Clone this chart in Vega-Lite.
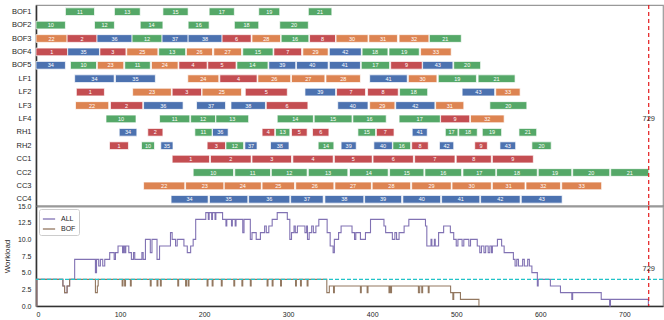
{
  "$schema": "https://vega.github.io/schema/vega-lite/v6.json",
  "padding": {"left": 2, "top": 3, "right": 0, "bottom": 0},
  "config": {
    "font": "Liberation Sans",
    "view": {"stroke": "#999999", "strokeWidth": 1.2},
    "axis": {
      "grid": false, "ticks": false, "domainColor": "#333333", "domainWidth": 1.6,
      "labelColor": "#262626", "titleColor": "#262626",
      "labelFont": "Liberation Sans", "titleFont": "Liberation Sans", "minExtent": 0
    },
    "legend": {
      "orient": "top-left", "offset": 3, "padding": 3, "strokeColor": "#cccccc",
      "cornerRadius": 2, "fillColor": "white", "symbolType": "stroke",
      "symbolSize": 150, "symbolStrokeWidth": 1.3, "labelFontSize": 7,
      "labelColor": "#262626", "rowPadding": -2, "labelOffset": 5
    }
  },
  "datasets": {
    "tasks": [
      {"unit": "BOF1", "job": 11, "cast": "CC2", "start": 35, "end": 69.6},
      {"unit": "BOF1", "job": 13, "cast": "CC2", "start": 93.3, "end": 124},
      {"unit": "BOF1", "job": 15, "cast": "CC2", "start": 151, "end": 181},
      {"unit": "BOF1", "job": 17, "cast": "CC2", "start": 206, "end": 236},
      {"unit": "BOF1", "job": 19, "cast": "CC2", "start": 265, "end": 290},
      {"unit": "BOF1", "job": 21, "cast": "CC2", "start": 324, "end": 352},
      {"unit": "BOF2", "job": 10, "cast": "CC2", "start": 0, "end": 35},
      {"unit": "BOF2", "job": 12, "cast": "CC2", "start": 69.6, "end": 93.3},
      {"unit": "BOF2", "job": 14, "cast": "CC2", "start": 124, "end": 151},
      {"unit": "BOF2", "job": 16, "cast": "CC2", "start": 181, "end": 206},
      {"unit": "BOF2", "job": 18, "cast": "CC2", "start": 236, "end": 265},
      {"unit": "BOF2", "job": 20, "cast": "CC2", "start": 290, "end": 324},
      {"unit": "BOF3", "job": 22, "cast": "CC3", "start": 0, "end": 37},
      {"unit": "BOF3", "job": 2, "cast": "CC1", "start": 37, "end": 72.6},
      {"unit": "BOF3", "job": 36, "cast": "CC4", "start": 72.6, "end": 114.3},
      {"unit": "BOF3", "job": 12, "cast": "CC2", "start": 114.3, "end": 150},
      {"unit": "BOF3", "job": 37, "cast": "CC4", "start": 150, "end": 181},
      {"unit": "BOF3", "job": 38, "cast": "CC4", "start": 181, "end": 221.4},
      {"unit": "BOF3", "job": 6, "cast": "CC1", "start": 221.4, "end": 256},
      {"unit": "BOF3", "job": 28, "cast": "CC3", "start": 257, "end": 291},
      {"unit": "BOF3", "job": 16, "cast": "CC2", "start": 291.7, "end": 324.6},
      {"unit": "BOF3", "job": 8, "cast": "CC1", "start": 325.5, "end": 356.4},
      {"unit": "BOF3", "job": 30, "cast": "CC3", "start": 357, "end": 395},
      {"unit": "BOF3", "job": 31, "cast": "CC3", "start": 396, "end": 430},
      {"unit": "BOF3", "job": 32, "cast": "CC3", "start": 432, "end": 467.5},
      {"unit": "BOF3", "job": 21, "cast": "CC2", "start": 468, "end": 506},
      {"unit": "BOF4", "job": 1, "cast": "CC1", "start": 0, "end": 37.7},
      {"unit": "BOF4", "job": 35, "cast": "CC4", "start": 37.7, "end": 75.5},
      {"unit": "BOF4", "job": 3, "cast": "CC1", "start": 76, "end": 107},
      {"unit": "BOF4", "job": 25, "cast": "CC3", "start": 108, "end": 145},
      {"unit": "BOF4", "job": 13, "cast": "CC2", "start": 146, "end": 178},
      {"unit": "BOF4", "job": 26, "cast": "CC3", "start": 179, "end": 210},
      {"unit": "BOF4", "job": 27, "cast": "CC3", "start": 211.5, "end": 244.5},
      {"unit": "BOF4", "job": 15, "cast": "CC2", "start": 246, "end": 282},
      {"unit": "BOF4", "job": 7, "cast": "CC1", "start": 283, "end": 316},
      {"unit": "BOF4", "job": 29, "cast": "CC3", "start": 317.5, "end": 347.6},
      {"unit": "BOF4", "job": 42, "cast": "CC4", "start": 349, "end": 387},
      {"unit": "BOF4", "job": 18, "cast": "CC2", "start": 388, "end": 418.7},
      {"unit": "BOF4", "job": 19, "cast": "CC2", "start": 420, "end": 456},
      {"unit": "BOF4", "job": 33, "cast": "CC3", "start": 457.6, "end": 494},
      {"unit": "BOF5", "job": 34, "cast": "CC4", "start": 0, "end": 35},
      {"unit": "BOF5", "job": 10, "cast": "CC2", "start": 41, "end": 72},
      {"unit": "BOF5", "job": 23, "cast": "CC3", "start": 73, "end": 104.4},
      {"unit": "BOF5", "job": 11, "cast": "CC2", "start": 105.6, "end": 136},
      {"unit": "BOF5", "job": 24, "cast": "CC3", "start": 137.4, "end": 169},
      {"unit": "BOF5", "job": 4, "cast": "CC1", "start": 170, "end": 203.6},
      {"unit": "BOF5", "job": 5, "cast": "CC1", "start": 204.4, "end": 238},
      {"unit": "BOF5", "job": 14, "cast": "CC2", "start": 239, "end": 276},
      {"unit": "BOF5", "job": 39, "cast": "CC4", "start": 277, "end": 309},
      {"unit": "BOF5", "job": 40, "cast": "CC4", "start": 310, "end": 347.6},
      {"unit": "BOF5", "job": 41, "cast": "CC4", "start": 349, "end": 386},
      {"unit": "BOF5", "job": 17, "cast": "CC2", "start": 387, "end": 420.7},
      {"unit": "BOF5", "job": 9, "cast": "CC1", "start": 422, "end": 459.5},
      {"unit": "BOF5", "job": 43, "cast": "CC4", "start": 460, "end": 496},
      {"unit": "BOF5", "job": 20, "cast": "CC2", "start": 497, "end": 529},
      {"unit": "LF1", "job": 34, "cast": "CC4", "start": 46, "end": 93},
      {"unit": "LF1", "job": 35, "cast": "CC4", "start": 94.5, "end": 142},
      {"unit": "LF1", "job": 24, "cast": "CC3", "start": 180.6, "end": 217.5},
      {"unit": "LF1", "job": 4, "cast": "CC1", "start": 218.7, "end": 263},
      {"unit": "LF1", "job": 26, "cast": "CC3", "start": 264, "end": 303},
      {"unit": "LF1", "job": 27, "cast": "CC3", "start": 304, "end": 343.7},
      {"unit": "LF1", "job": 28, "cast": "CC3", "start": 345, "end": 386},
      {"unit": "LF1", "job": 41, "cast": "CC4", "start": 397, "end": 441.7},
      {"unit": "LF1", "job": 30, "cast": "CC3", "start": 443, "end": 477},
      {"unit": "LF1", "job": 19, "cast": "CC2", "start": 478.6, "end": 524},
      {"unit": "LF1", "job": 21, "cast": "CC2", "start": 526, "end": 570},
      {"unit": "LF2", "job": 1, "cast": "CC1", "start": 48, "end": 81.4},
      {"unit": "LF2", "job": 23, "cast": "CC3", "start": 115, "end": 161},
      {"unit": "LF2", "job": 3, "cast": "CC1", "start": 162, "end": 197},
      {"unit": "LF2", "job": 25, "cast": "CC3", "start": 197.6, "end": 244.5},
      {"unit": "LF2", "job": 5, "cast": "CC1", "start": 249, "end": 299},
      {"unit": "LF2", "job": 39, "cast": "CC4", "start": 320, "end": 356.4},
      {"unit": "LF2", "job": 7, "cast": "CC1", "start": 357.6, "end": 392},
      {"unit": "LF2", "job": 8, "cast": "CC1", "start": 394.5, "end": 431},
      {"unit": "LF2", "job": 18, "cast": "CC2", "start": 432.6, "end": 466},
      {"unit": "LF2", "job": 43, "cast": "CC4", "start": 507, "end": 545.7},
      {"unit": "LF2", "job": 33, "cast": "CC3", "start": 547, "end": 576},
      {"unit": "LF3", "job": 22, "cast": "CC3", "start": 47, "end": 86.5},
      {"unit": "LF3", "job": 2, "cast": "CC1", "start": 88.6, "end": 127},
      {"unit": "LF3", "job": 36, "cast": "CC4", "start": 128, "end": 175},
      {"unit": "LF3", "job": 37, "cast": "CC4", "start": 191, "end": 225.5},
      {"unit": "LF3", "job": 38, "cast": "CC4", "start": 232, "end": 273},
      {"unit": "LF3", "job": 6, "cast": "CC1", "start": 274, "end": 323.5},
      {"unit": "LF3", "job": 40, "cast": "CC4", "start": 359, "end": 395},
      {"unit": "LF3", "job": 29, "cast": "CC3", "start": 397, "end": 427},
      {"unit": "LF3", "job": 42, "cast": "CC4", "start": 428, "end": 474.6},
      {"unit": "LF3", "job": 31, "cast": "CC3", "start": 475.5, "end": 509},
      {"unit": "LF3", "job": 20, "cast": "CC2", "start": 540, "end": 584},
      {"unit": "LF4", "job": 10, "cast": "CC2", "start": 83.3, "end": 119},
      {"unit": "LF4", "job": 11, "cast": "CC2", "start": 147, "end": 183},
      {"unit": "LF4", "job": 12, "cast": "CC2", "start": 184, "end": 213.6},
      {"unit": "LF4", "job": 13, "cast": "CC2", "start": 214, "end": 253},
      {"unit": "LF4", "job": 14, "cast": "CC2", "start": 287, "end": 330},
      {"unit": "LF4", "job": 15, "cast": "CC2", "start": 331, "end": 376},
      {"unit": "LF4", "job": 16, "cast": "CC2", "start": 377, "end": 416.7},
      {"unit": "LF4", "job": 17, "cast": "CC2", "start": 432, "end": 481},
      {"unit": "LF4", "job": 9, "cast": "CC1", "start": 481.4, "end": 516},
      {"unit": "LF4", "job": 32, "cast": "CC3", "start": 517, "end": 557},
      {"unit": "RH1", "job": 34, "cast": "CC4", "start": 99, "end": 120},
      {"unit": "RH1", "job": 2, "cast": "CC1", "start": 133, "end": 151},
      {"unit": "RH1", "job": 11, "cast": "CC2", "start": 189, "end": 209.5},
      {"unit": "RH1", "job": 36, "cast": "CC4", "start": 210, "end": 228.6},
      {"unit": "RH1", "job": 4, "cast": "CC1", "start": 269, "end": 284},
      {"unit": "RH1", "job": 13, "cast": "CC2", "start": 285, "end": 302},
      {"unit": "RH1", "job": 5, "cast": "CC1", "start": 304, "end": 322.6},
      {"unit": "RH1", "job": 6, "cast": "CC1", "start": 329, "end": 348.5},
      {"unit": "RH1", "job": 15, "cast": "CC2", "start": 383, "end": 404},
      {"unit": "RH1", "job": 7, "cast": "CC1", "start": 405, "end": 426},
      {"unit": "RH1", "job": 41, "cast": "CC4", "start": 447.6, "end": 465.5},
      {"unit": "RH1", "job": 17, "cast": "CC2", "start": 487, "end": 502},
      {"unit": "RH1", "job": 18, "cast": "CC2", "start": 503, "end": 525},
      {"unit": "RH1", "job": 19, "cast": "CC2", "start": 531, "end": 554},
      {"unit": "RH1", "job": 21, "cast": "CC2", "start": 574.6, "end": 595.7},
      {"unit": "RH2", "job": 1, "cast": "CC1", "start": 87.4, "end": 110},
      {"unit": "RH2", "job": 10, "cast": "CC2", "start": 125.5, "end": 141},
      {"unit": "RH2", "job": 35, "cast": "CC4", "start": 148.5, "end": 163},
      {"unit": "RH2", "job": 3, "cast": "CC1", "start": 203.6, "end": 225.5},
      {"unit": "RH2", "job": 12, "cast": "CC2", "start": 226, "end": 247},
      {"unit": "RH2", "job": 37, "cast": "CC4", "start": 248.5, "end": 263},
      {"unit": "RH2", "job": 38, "cast": "CC4", "start": 279, "end": 301},
      {"unit": "RH2", "job": 14, "cast": "CC2", "start": 335.7, "end": 354.4},
      {"unit": "RH2", "job": 39, "cast": "CC4", "start": 363, "end": 381},
      {"unit": "RH2", "job": 40, "cast": "CC4", "start": 402, "end": 424},
      {"unit": "RH2", "job": 16, "cast": "CC2", "start": 424.6, "end": 445.7},
      {"unit": "RH2", "job": 8, "cast": "CC1", "start": 447, "end": 466.7},
      {"unit": "RH2", "job": 42, "cast": "CC4", "start": 480, "end": 497},
      {"unit": "RH2", "job": 9, "cast": "CC1", "start": 522, "end": 537},
      {"unit": "RH2", "job": 43, "cast": "CC4", "start": 552, "end": 570.7},
      {"unit": "RH2", "job": 20, "cast": "CC2", "start": 590, "end": 613},
      {"unit": "CC1", "job": 1, "cast": "CC1", "start": 162, "end": 206.4},
      {"unit": "CC1", "job": 2, "cast": "CC1", "start": 207.6, "end": 256},
      {"unit": "CC1", "job": 3, "cast": "CC1", "start": 257, "end": 304},
      {"unit": "CC1", "job": 4, "cast": "CC1", "start": 305.6, "end": 353.6},
      {"unit": "CC1", "job": 5, "cast": "CC1", "start": 355, "end": 400},
      {"unit": "CC1", "job": 6, "cast": "CC1", "start": 401, "end": 449},
      {"unit": "CC1", "job": 7, "cast": "CC1", "start": 450.5, "end": 498.5},
      {"unit": "CC1", "job": 8, "cast": "CC1", "start": 500, "end": 541.7},
      {"unit": "CC1", "job": 9, "cast": "CC1", "start": 543, "end": 591.7},
      {"unit": "CC2", "job": 10, "cast": "CC2", "start": 187, "end": 235},
      {"unit": "CC2", "job": 11, "cast": "CC2", "start": 236.5, "end": 279},
      {"unit": "CC2", "job": 12, "cast": "CC2", "start": 280, "end": 322.6},
      {"unit": "CC2", "job": 13, "cast": "CC2", "start": 324, "end": 371},
      {"unit": "CC2", "job": 14, "cast": "CC2", "start": 373, "end": 419},
      {"unit": "CC2", "job": 15, "cast": "CC2", "start": 420.7, "end": 461.5},
      {"unit": "CC2", "job": 16, "cast": "CC2", "start": 462.7, "end": 506.4},
      {"unit": "CC2", "job": 17, "cast": "CC2", "start": 508, "end": 547},
      {"unit": "CC2", "job": 18, "cast": "CC2", "start": 548, "end": 596.4},
      {"unit": "CC2", "job": 19, "cast": "CC2", "start": 597.6, "end": 637.4},
      {"unit": "CC2", "job": 20, "cast": "CC2", "start": 638.6, "end": 682.6},
      {"unit": "CC2", "job": 21, "cast": "CC2", "start": 683.8, "end": 729},
      {"unit": "CC3", "job": 22, "cast": "CC3", "start": 128, "end": 177},
      {"unit": "CC3", "job": 23, "cast": "CC3", "start": 178, "end": 223.5},
      {"unit": "CC3", "job": 24, "cast": "CC3", "start": 224, "end": 268},
      {"unit": "CC3", "job": 25, "cast": "CC3", "start": 269, "end": 307.6},
      {"unit": "CC3", "job": 26, "cast": "CC3", "start": 309, "end": 354.4},
      {"unit": "CC3", "job": 27, "cast": "CC3", "start": 355.6, "end": 399},
      {"unit": "CC3", "job": 28, "cast": "CC3", "start": 400, "end": 445.7},
      {"unit": "CC3", "job": 29, "cast": "CC3", "start": 447, "end": 494},
      {"unit": "CC3", "job": 30, "cast": "CC3", "start": 495, "end": 541.7},
      {"unit": "CC3", "job": 31, "cast": "CC3", "start": 543, "end": 581.8},
      {"unit": "CC3", "job": 32, "cast": "CC3", "start": 583, "end": 624},
      {"unit": "CC3", "job": 33, "cast": "CC3", "start": 625.5, "end": 673},
      {"unit": "CC4", "job": 34, "cast": "CC4", "start": 160.7, "end": 204.8},
      {"unit": "CC4", "job": 35, "cast": "CC4", "start": 206.4, "end": 252},
      {"unit": "CC4", "job": 36, "cast": "CC4", "start": 253, "end": 302},
      {"unit": "CC4", "job": 37, "cast": "CC4", "start": 303, "end": 341.7},
      {"unit": "CC4", "job": 38, "cast": "CC4", "start": 343.7, "end": 390},
      {"unit": "CC4", "job": 39, "cast": "CC4", "start": 391, "end": 435},
      {"unit": "CC4", "job": 40, "cast": "CC4", "start": 436.5, "end": 481.4},
      {"unit": "CC4", "job": 41, "cast": "CC4", "start": 482.6, "end": 528},
      {"unit": "CC4", "job": 42, "cast": "CC4", "start": 529, "end": 576},
      {"unit": "CC4", "job": 43, "cast": "CC4", "start": 577.4, "end": 626}
    ],
    "load": [
      {"series": "ALL", "t": 0, "load": 0}, {"series": "ALL", "t": 1, "load": 4},
      {"series": "ALL", "t": 32, "load": 3}, {"series": "ALL", "t": 34, "load": 2},
      {"series": "ALL", "t": 37, "load": 3}, {"series": "ALL", "t": 40, "load": 4},
      {"series": "ALL", "t": 46, "load": 7}, {"series": "ALL", "t": 70.7, "load": 5},
      {"series": "ALL", "t": 72, "load": 7}, {"series": "ALL", "t": 74.6, "load": 6},
      {"series": "ALL", "t": 76.6, "load": 7}, {"series": "ALL", "t": 79.4, "load": 6},
      {"series": "ALL", "t": 81.8, "load": 7}, {"series": "ALL", "t": 87.7, "load": 8},
      {"series": "ALL", "t": 93, "load": 7}, {"series": "ALL", "t": 94.5, "load": 8},
      {"series": "ALL", "t": 97.6, "load": 9}, {"series": "ALL", "t": 103, "load": 8},
      {"series": "ALL", "t": 104.2, "load": 9}, {"series": "ALL", "t": 105.6, "load": 8},
      {"series": "ALL", "t": 106.8, "load": 9}, {"series": "ALL", "t": 110.4, "load": 8},
      {"series": "ALL", "t": 113.5, "load": 7}, {"series": "ALL", "t": 116, "load": 8},
      {"series": "ALL", "t": 117.5, "load": 7}, {"series": "ALL", "t": 126, "load": 8},
      {"series": "ALL", "t": 127.5, "load": 7}, {"series": "ALL", "t": 130.2, "load": 10},
      {"series": "ALL", "t": 136, "load": 8}, {"series": "ALL", "t": 138, "load": 10},
      {"series": "ALL", "t": 144, "load": 7}, {"series": "ALL", "t": 147, "load": 9},
      {"series": "ALL", "t": 160, "load": 11}, {"series": "ALL", "t": 162, "load": 10},
      {"series": "ALL", "t": 166, "load": 9}, {"series": "ALL", "t": 168, "load": 10},
      {"series": "ALL", "t": 176, "load": 9}, {"series": "ALL", "t": 180, "load": 8},
      {"series": "ALL", "t": 184, "load": 9}, {"series": "ALL", "t": 187, "load": 10},
      {"series": "ALL", "t": 190, "load": 13}, {"series": "ALL", "t": 202, "load": 14},
      {"series": "ALL", "t": 205, "load": 13}, {"series": "ALL", "t": 206, "load": 14},
      {"series": "ALL", "t": 209, "load": 13}, {"series": "ALL", "t": 210, "load": 14},
      {"series": "ALL", "t": 213, "load": 13}, {"series": "ALL", "t": 214, "load": 14},
      {"series": "ALL", "t": 222, "load": 13}, {"series": "ALL", "t": 226, "load": 12},
      {"series": "ALL", "t": 227, "load": 13}, {"series": "ALL", "t": 232.6, "load": 12},
      {"series": "ALL", "t": 233.6, "load": 13}, {"series": "ALL", "t": 237, "load": 12},
      {"series": "ALL", "t": 238, "load": 13}, {"series": "ALL", "t": 246, "load": 11},
      {"series": "ALL", "t": 247.5, "load": 13}, {"series": "ALL", "t": 255, "load": 10},
      {"series": "ALL", "t": 257, "load": 11}, {"series": "ALL", "t": 262, "load": 10},
      {"series": "ALL", "t": 267, "load": 11}, {"series": "ALL", "t": 272, "load": 12},
      {"series": "ALL", "t": 274, "load": 11}, {"series": "ALL", "t": 277, "load": 12},
      {"series": "ALL", "t": 281, "load": 13}, {"series": "ALL", "t": 287, "load": 14},
      {"series": "ALL", "t": 299, "load": 13}, {"series": "ALL", "t": 302, "load": 10},
      {"series": "ALL", "t": 304, "load": 11}, {"series": "ALL", "t": 307, "load": 12},
      {"series": "ALL", "t": 308.5, "load": 11}, {"series": "ALL", "t": 311, "load": 12},
      {"series": "ALL", "t": 320, "load": 11}, {"series": "ALL", "t": 322, "load": 12},
      {"series": "ALL", "t": 323, "load": 10}, {"series": "ALL", "t": 325, "load": 11},
      {"series": "ALL", "t": 328, "load": 12}, {"series": "ALL", "t": 330, "load": 11},
      {"series": "ALL", "t": 333, "load": 12}, {"series": "ALL", "t": 336.5, "load": 13},
      {"series": "ALL", "t": 346.4, "load": 11}, {"series": "ALL", "t": 350, "load": 9},
      {"series": "ALL", "t": 353.5, "load": 8}, {"series": "ALL", "t": 355, "load": 10},
      {"series": "ALL", "t": 360, "load": 11}, {"series": "ALL", "t": 363, "load": 12},
      {"series": "ALL", "t": 376, "load": 11}, {"series": "ALL", "t": 379, "load": 10},
      {"series": "ALL", "t": 380.5, "load": 11}, {"series": "ALL", "t": 386, "load": 10},
      {"series": "ALL", "t": 392, "load": 11}, {"series": "ALL", "t": 398, "load": 13},
      {"series": "ALL", "t": 414, "load": 12}, {"series": "ALL", "t": 416, "load": 11},
      {"series": "ALL", "t": 424, "load": 10}, {"series": "ALL", "t": 427, "load": 11},
      {"series": "ALL", "t": 429, "load": 10}, {"series": "ALL", "t": 432, "load": 11},
      {"series": "ALL", "t": 438, "load": 12}, {"series": "ALL", "t": 443.6, "load": 13},
      {"series": "ALL", "t": 463.4, "load": 12}, {"series": "ALL", "t": 465, "load": 9},
      {"series": "ALL", "t": 470, "load": 10}, {"series": "ALL", "t": 471, "load": 9},
      {"series": "ALL", "t": 474, "load": 10}, {"series": "ALL", "t": 475, "load": 9},
      {"series": "ALL", "t": 479, "load": 11}, {"series": "ALL", "t": 485, "load": 12},
      {"series": "ALL", "t": 493, "load": 11}, {"series": "ALL", "t": 497, "load": 10},
      {"series": "ALL", "t": 500, "load": 9}, {"series": "ALL", "t": 502, "load": 10},
      {"series": "ALL", "t": 507, "load": 9}, {"series": "ALL", "t": 509, "load": 10},
      {"series": "ALL", "t": 515, "load": 9}, {"series": "ALL", "t": 517, "load": 10},
      {"series": "ALL", "t": 525, "load": 9}, {"series": "ALL", "t": 528, "load": 8},
      {"series": "ALL", "t": 530, "load": 9}, {"series": "ALL", "t": 533, "load": 8},
      {"series": "ALL", "t": 535, "load": 9}, {"series": "ALL", "t": 538, "load": 8},
      {"series": "ALL", "t": 540, "load": 9}, {"series": "ALL", "t": 542, "load": 8},
      {"series": "ALL", "t": 543, "load": 9}, {"series": "ALL", "t": 549, "load": 10},
      {"series": "ALL", "t": 554, "load": 9}, {"series": "ALL", "t": 557, "load": 8},
      {"series": "ALL", "t": 568, "load": 7}, {"series": "ALL", "t": 570, "load": 6},
      {"series": "ALL", "t": 572, "load": 7}, {"series": "ALL", "t": 574, "load": 6},
      {"series": "ALL", "t": 579, "load": 7}, {"series": "ALL", "t": 581, "load": 6},
      {"series": "ALL", "t": 585, "load": 7}, {"series": "ALL", "t": 587, "load": 6},
      {"series": "ALL", "t": 590, "load": 5}, {"series": "ALL", "t": 596.5, "load": 3},
      {"series": "ALL", "t": 597.5, "load": 4}, {"series": "ALL", "t": 612, "load": 3},
      {"series": "ALL", "t": 624, "load": 2}, {"series": "ALL", "t": 637.5, "load": 1},
      {"series": "ALL", "t": 638.5, "load": 2}, {"series": "ALL", "t": 672.5, "load": 1},
      {"series": "ALL", "t": 682.5, "load": 0}, {"series": "ALL", "t": 683.5, "load": 1},
      {"series": "ALL", "t": 728.6, "load": 0},
      {"series": "BOF", "t": 0, "load": 0}, {"series": "BOF", "t": 1, "load": 4},
      {"series": "BOF", "t": 32, "load": 3}, {"series": "BOF", "t": 34, "load": 2},
      {"series": "BOF", "t": 37, "load": 3}, {"series": "BOF", "t": 40, "load": 4},
      {"series": "BOF", "t": 70.7, "load": 2}, {"series": "BOF", "t": 73, "load": 3},
      {"series": "BOF", "t": 74, "load": 4}, {"series": "BOF", "t": 102.5, "load": 3},
      {"series": "BOF", "t": 103.5, "load": 4}, {"series": "BOF", "t": 105.5, "load": 3},
      {"series": "BOF", "t": 106.5, "load": 4}, {"series": "BOF", "t": 112.3, "load": 3},
      {"series": "BOF", "t": 113.3, "load": 4}, {"series": "BOF", "t": 136, "load": 3},
      {"series": "BOF", "t": 137, "load": 4}, {"series": "BOF", "t": 144, "load": 3},
      {"series": "BOF", "t": 145, "load": 4}, {"series": "BOF", "t": 148, "load": 3},
      {"series": "BOF", "t": 149, "load": 4}, {"series": "BOF", "t": 168.7, "load": 3},
      {"series": "BOF", "t": 169.7, "load": 4}, {"series": "BOF", "t": 178, "load": 3},
      {"series": "BOF", "t": 179, "load": 4}, {"series": "BOF", "t": 181, "load": 3},
      {"series": "BOF", "t": 182, "load": 4}, {"series": "BOF", "t": 203.6, "load": 3},
      {"series": "BOF", "t": 204.6, "load": 4}, {"series": "BOF", "t": 209.6, "load": 3},
      {"series": "BOF", "t": 210.6, "load": 4}, {"series": "BOF", "t": 220.5, "load": 3},
      {"series": "BOF", "t": 221.5, "load": 4}, {"series": "BOF", "t": 235.4, "load": 3},
      {"series": "BOF", "t": 236.4, "load": 4}, {"series": "BOF", "t": 245, "load": 3},
      {"series": "BOF", "t": 246, "load": 4}, {"series": "BOF", "t": 255, "load": 3},
      {"series": "BOF", "t": 256, "load": 4}, {"series": "BOF", "t": 275, "load": 3},
      {"series": "BOF", "t": 276, "load": 4}, {"series": "BOF", "t": 281, "load": 3},
      {"series": "BOF", "t": 282, "load": 4}, {"series": "BOF", "t": 291, "load": 3},
      {"series": "BOF", "t": 292, "load": 4}, {"series": "BOF", "t": 308.8, "load": 3},
      {"series": "BOF", "t": 309.8, "load": 4}, {"series": "BOF", "t": 314.7, "load": 3},
      {"series": "BOF", "t": 315.7, "load": 4}, {"series": "BOF", "t": 322.6, "load": 3},
      {"series": "BOF", "t": 323.6, "load": 4}, {"series": "BOF", "t": 346, "load": 2},
      {"series": "BOF", "t": 349, "load": 3}, {"series": "BOF", "t": 354, "load": 2},
      {"series": "BOF", "t": 355, "load": 3}, {"series": "BOF", "t": 386, "load": 2},
      {"series": "BOF", "t": 387, "load": 3}, {"series": "BOF", "t": 394, "load": 2},
      {"series": "BOF", "t": 395, "load": 3}, {"series": "BOF", "t": 420, "load": 2},
      {"series": "BOF", "t": 421, "load": 3}, {"series": "BOF", "t": 422, "load": 2},
      {"series": "BOF", "t": 423, "load": 3}, {"series": "BOF", "t": 455, "load": 2},
      {"series": "BOF", "t": 456.5, "load": 3}, {"series": "BOF", "t": 459, "load": 2},
      {"series": "BOF", "t": 460, "load": 3}, {"series": "BOF", "t": 466.7, "load": 2},
      {"series": "BOF", "t": 467.7, "load": 3}, {"series": "BOF", "t": 493.3, "load": 2},
      {"series": "BOF", "t": 496, "load": 1}, {"series": "BOF", "t": 497, "load": 2},
      {"series": "BOF", "t": 505, "load": 1}, {"series": "BOF", "t": 527, "load": 0}
    ]
  },
  "vconcat": [
    {
      "width": 627,
      "height": 201,
      "layer": [
        {
          "data": {"name": "tasks"},
          "mark": {"type": "bar", "stroke": "white", "strokeWidth": 0.7},
          "encoding": {
            "x": {"field": "start", "type": "quantitative", "scale": {"domain": [0, 746], "nice": false, "zero": false}, "axis": {"labels": false, "title": null}},
            "x2": {"field": "end"},
            "y": {
              "field": "unit", "type": "nominal",
              "sort": ["BOF1", "BOF2", "BOF3", "BOF4", "BOF5", "LF1", "LF2", "LF3", "LF4", "RH1", "RH2", "CC1", "CC2", "CC3", "CC4"],
              "scale": {"paddingInner": 0.425, "paddingOuter": 0.2125},
              "axis": {"title": null, "labelFontSize": 7.5, "labelPadding": 5}
            },
            "color": {
              "field": "cast", "type": "nominal",
              "scale": {"domain": ["CC1", "CC2", "CC3", "CC4"], "range": ["#c44e52", "#55a868", "#dd8452", "#4c72b0"]},
              "legend": null
            }
          }
        },
        {
          "data": {"name": "tasks"},
          "transform": [{"fold": ["start", "end"], "as": ["edge", "t"]}],
          "mark": {"type": "text", "color": "white", "fontSize": 5.5, "baseline": "middle"},
          "encoding": {
            "x": {"field": "t", "aggregate": "mean", "type": "quantitative"},
            "y": {"field": "unit", "type": "nominal", "sort": ["BOF1", "BOF2", "BOF3", "BOF4", "BOF5", "LF1", "LF2", "LF3", "LF4", "RH1", "RH2", "CC1", "CC2", "CC3", "CC4"]},
            "text": {"field": "job", "type": "nominal"}
          }
        },
        {
          "data": {"values": [{}]},
          "mark": {"type": "rule", "color": "#e41a1c", "strokeDash": [4, 3], "strokeWidth": 1.2},
          "encoding": {"x": {"datum": 729}}
        },
        {
          "data": {"values": [{}]},
          "mark": {"type": "text", "fontSize": 7.5, "color": "#333333", "baseline": "middle"},
          "encoding": {"x": {"datum": 729}, "y": {"datum": "LF4"}, "text": {"value": "729"}}
        }
      ]
    },
    {
      "width": 627,
      "height": 100,
      "layer": [
        {
          "data": {"name": "load"},
          "mark": {"type": "line", "interpolate": "step-after", "strokeWidth": 1.1},
          "encoding": {
            "x": {"field": "t", "type": "quantitative", "scale": {"domain": [0, 746], "nice": false, "zero": false},
                  "axis": {"title": null, "values": [0, 100, 200, 300, 400, 500, 600, 700], "tickCount": 8, "labelFontSize": 7, "labelPadding": 4}},
            "y": {"field": "load", "type": "quantitative", "scale": {"domain": [0, 15], "nice": false},
                  "axis": {"title": "Workload", "values": [0, 2.5, 5, 7.5, 10, 12.5, 15], "tickCount": 7, "labelExpr": "format(datum.value, '.1f')", "labelOverlap": false, "labelFlush": false, "titleFontSize": 8, "titleFontWeight": "normal", "labelFontSize": 7, "labelPadding": 5, "titlePadding": 6}},
            "color": {"field": "series", "type": "nominal", "scale": {"domain": ["ALL", "BOF"], "range": ["#8172b3", "#937860"]}, "legend": {"title": null}}
          }
        },
        {
          "data": {"values": [{"load": 4}]},
          "mark": {"type": "rule", "color": "#22c3c8", "strokeDash": [4, 2], "strokeWidth": 1.2},
          "encoding": {"y": {"field": "load", "type": "quantitative"}}
        },
        {
          "data": {"values": [{"t": 729}]},
          "mark": {"type": "rule", "color": "#e41a1c", "strokeDash": [4, 3], "strokeWidth": 1.2},
          "encoding": {"x": {"field": "t", "type": "quantitative"}}
        },
        {
          "data": {"values": [{"t": 729, "load": 5.5, "label": "729"}]},
          "mark": {"type": "text", "fontSize": 7.5, "color": "#333333", "baseline": "middle"},
          "encoding": {"x": {"field": "t", "type": "quantitative"}, "y": {"field": "load", "type": "quantitative"}, "text": {"field": "label"}}
        }
      ]
    }
  ],
  "spacing": 0,
  "bounds": "flush",
  "resolve": {"scale": {"color": "independent", "x": "independent", "y": "independent"}, "legend": {"color": "independent"}}
}
